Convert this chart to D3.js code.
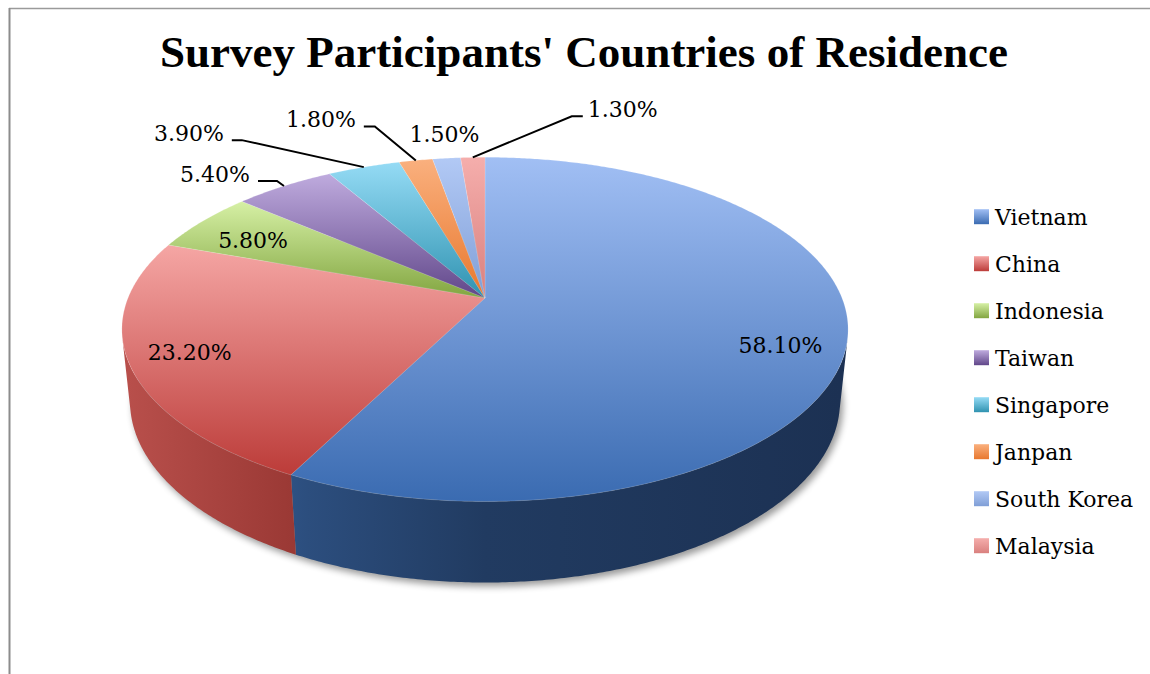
<!DOCTYPE html>
<html>
<head>
<meta charset="utf-8">
<script src="https://cdn.jsdelivr.net/npm/d3@7"></script>
<style>
  html, body { margin: 0; padding: 0; background: #fff; }
  svg { display: block; }
</style>
</head>
<body>
<svg id="chart" width="1150" height="674"></svg>
<script>
// ---- data ----
const categories = ["Vietnam", "China", "Indonesia", "Taiwan", "Singapore", "Janpan", "South Korea", "Malaysia"];
const shares = [58.1, 23.2, 5.8, 5.4, 3.9, 1.8, 1.5, 1.3];
const titleText = "Survey Participants' Countries of Residence";

// ---- styling ----
const topLight = ["#a1bff4", "#f5a6a4", "#d6f0a5", "#bfabde", "#95dbf5", "#fab07e", "#b2c9f5", "#f5aeac"];
const topDark  = ["#3a6bb1", "#bc3c39", "#82a540", "#604689", "#2f92b0", "#e8782e", "#7f9ed6", "#d9807e"];
const sideLight = ["#3f72b2", "#b84f4b", "#7f9f3f", "#5e4686", "#2f8fab", "#d9702b", "#7896cc", "#c97472"];
const sideDark  = ["#1c3153", "#7e2320", "#4e6426", "#3a2a55", "#1d5a6b", "#8a4519", "#4b5e80", "#7e4847"];

// label placement relative to the rim point at each slice's mid-angle
const labelLayout = [
  { kind: "inside",  dx: -67,  dy: 14.5 },
  { kind: "inside",  dx: 60.5, dy: -3.6 },
  { kind: "inside",  dx: 51,   dy: 26.4 },
  { kind: "leader",  dx: -7,   dy: -5,  run: -19 },
  { kind: "leader",  dx: -122, dy: -27, run: -10 },
  { kind: "leader",  dx: -41,  dy: -34, run: -11 },
  { kind: "above",   dx: -2,   dy: -16 },
  { kind: "leader",  dx: 99,   dy: -41, run: 11 }
];

// ---- 3D disc geometry (perspective view of a tilted cylinder) ----
const W = 1150, H = 674;
const cx = 485, cy = 298;       // screen position of the disc centre
const R = 357;                  // disc radius
const tilt = 27.78 * Math.PI / 180;
const focal = 1733;             // camera distance
const depth = 82;               // cylinder thickness
const sinT = Math.sin(tilt), cosT = Math.cos(tilt);

function project(theta, r, Y) {
  const X = r * Math.sin(theta), Z = r * Math.cos(theta);
  const yp = Z * sinT + Y * cosT;
  const zp = Z * cosT - Y * sinT;
  const s = focal / (focal + zp);
  return [cx + X * s, cy - yp * s];
}

// wall faces the camera where cos(theta) < -R / (focal * cos(tilt))
const visLimit = Math.acos(-R / (focal * cosT));
const wallFrom = visLimit, wallTo = 2 * Math.PI - visLimit;

const svg = d3.select("#chart");
const defs = svg.append("defs");

const pie = d3.pie().sort(null).value(d => d).startAngle(0).endAngle(2 * Math.PI);
const arcs = pie(shares);
const fmt = d3.format(".2f");

// gradients
arcs.forEach((a, i) => {
  const g = defs.append("linearGradient").attr("id", "top" + i)
    .attr("x1", 0).attr("y1", 0).attr("x2", 0).attr("y2", 1);
  g.append("stop").attr("offset", 0).attr("stop-color", topLight[i]);
  g.append("stop").attr("offset", 0.5).attr("stop-color", d3.interpolateRgb(topLight[i], topDark[i])(0.5));
  g.append("stop").attr("offset", 1).attr("stop-color", topDark[i]);

  const s = defs.append("linearGradient").attr("id", "side" + i)
    .attr("gradientUnits", "userSpaceOnUse")
    .attr("x1", cx - R).attr("y1", 0).attr("x2", cx + R).attr("y2", 0);
  s.append("stop").attr("offset", 0).attr("stop-color", sideLight[i]);
  s.append("stop").attr("offset", 0.25).attr("stop-color", d3.interpolateRgb(sideLight[i], sideDark[i])(0.55));
  s.append("stop").attr("offset", 0.5).attr("stop-color", d3.interpolateRgb(sideLight[i], sideDark[i])(0.85));
  s.append("stop").attr("offset", 1).attr("stop-color", sideDark[i]);
});

const blur = defs.append("filter").attr("id", "soft")
  .attr("x", "-10%").attr("y", "-10%").attr("width", "120%").attr("height", "120%");
blur.append("feGaussianBlur").attr("stdDeviation", 3.5);

// frame lines
svg.append("line").attr("x1", 9).attr("y1", 8.5).attr("x2", W).attr("y2", 8.5)
  .attr("stroke", "#9a9a9a").attr("stroke-width", 1.5);
svg.append("line").attr("x1", 9.5).attr("y1", 8).attr("x2", 9.5).attr("y2", H)
  .attr("stroke", "#8c8c8c").attr("stroke-width", 2);

// title
svg.append("text")
  .attr("x", 584).attr("y", 67)
  .attr("text-anchor", "middle")
  .attr("font-family", "'Liberation Serif', 'Times New Roman', serif")
  .attr("font-weight", "bold")
  .attr("font-size", 44)
  .attr("textLength", 848)
  .attr("lengthAdjust", "spacingAndGlyphs")
  .attr("fill", "#000")
  .text(titleText);

function arcPoints(a0, a1, r, Y) {
  const n = Math.max(2, Math.ceil((a1 - a0) / (Math.PI / 360)));
  return d3.range(n + 1).map(k => project(a0 + (a1 - a0) * k / n, r, Y));
}

const line = d3.line();
const pieG = svg.append("g");

// soft shadow under the disc
pieG.append("path")
  .attr("d", line(arcPoints(0, 2 * Math.PI, R, -depth)) + "Z")
  .attr("transform", "translate(3,4)")
  .attr("fill", "#000").attr("opacity", 0.4)
  .attr("filter", "url(#soft)");

// outer walls
arcs.forEach((a, i) => {
  const s0 = Math.max(a.startAngle, wallFrom), s1 = Math.min(a.endAngle, wallTo);
  if (s1 <= s0) return;
  const upper = arcPoints(s0, s1, R, 0);
  const lower = arcPoints(s0, s1, R, -depth).reverse();
  pieG.append("path")
    .attr("d", line(upper.concat(lower)) + "Z")
    .attr("fill", `url(#side${i})`);
});

// top faces
arcs.forEach((a, i) => {
  const pts = [project(0, 0, 0)].concat(arcPoints(a.startAngle, a.endAngle, R, 0));
  pieG.append("path")
    .attr("d", line(pts) + "Z")
    .attr("fill", `url(#top${i})`)
    .attr("stroke", "rgba(255,255,255,0.25)")
    .attr("stroke-width", 0.6);
});

// data labels
const labelFont = "'DejaVu Serif', serif";
const labelG = svg.append("g")
  .attr("font-family", labelFont).attr("font-size", 22).attr("fill", "#000");

arcs.forEach((a, i) => {
  const mid = (a.startAngle + a.endAngle) / 2;
  const p = project(mid, R, 0);
  const L = labelLayout[i];
  const txt = fmt(shares[i]) + "%";
  if (L.kind === "inside" || L.kind === "above") {
    labelG.append("text")
      .attr("x", p[0] + L.dx).attr("y", p[1] + L.dy)
      .attr("text-anchor", "middle").text(txt);
  } else {
    const e = [p[0] + L.dx, p[1] + L.dy];
    const h = [e[0] + L.run, e[1]];
    labelG.append("path")
      .attr("d", line([p, e, h]))
      .attr("fill", "none").attr("stroke", "#000").attr("stroke-width", 2);
    const left = L.run < 0;
    labelG.append("text")
      .attr("x", h[0] + (left ? -8 : 5)).attr("y", h[1] + 1)
      .attr("text-anchor", left ? "end" : "start").text(txt);
  }
});

// legend
const legendRow = d3.scalePoint().domain(categories).range([216.7, 545.7]);
const legend = svg.append("g")
  .attr("font-family", labelFont).attr("font-size", 22).attr("fill", "#000");
categories.forEach((c, i) => {
  const y = legendRow(c);
  legend.append("rect")
    .attr("x", 974).attr("y", y - 7.5).attr("width", 15).attr("height", 15)
    .attr("fill", `url(#top${i})`);
  legend.append("text").attr("x", 995).attr("y", y + 8).text(c);
});
</script>
</body>
</html>
